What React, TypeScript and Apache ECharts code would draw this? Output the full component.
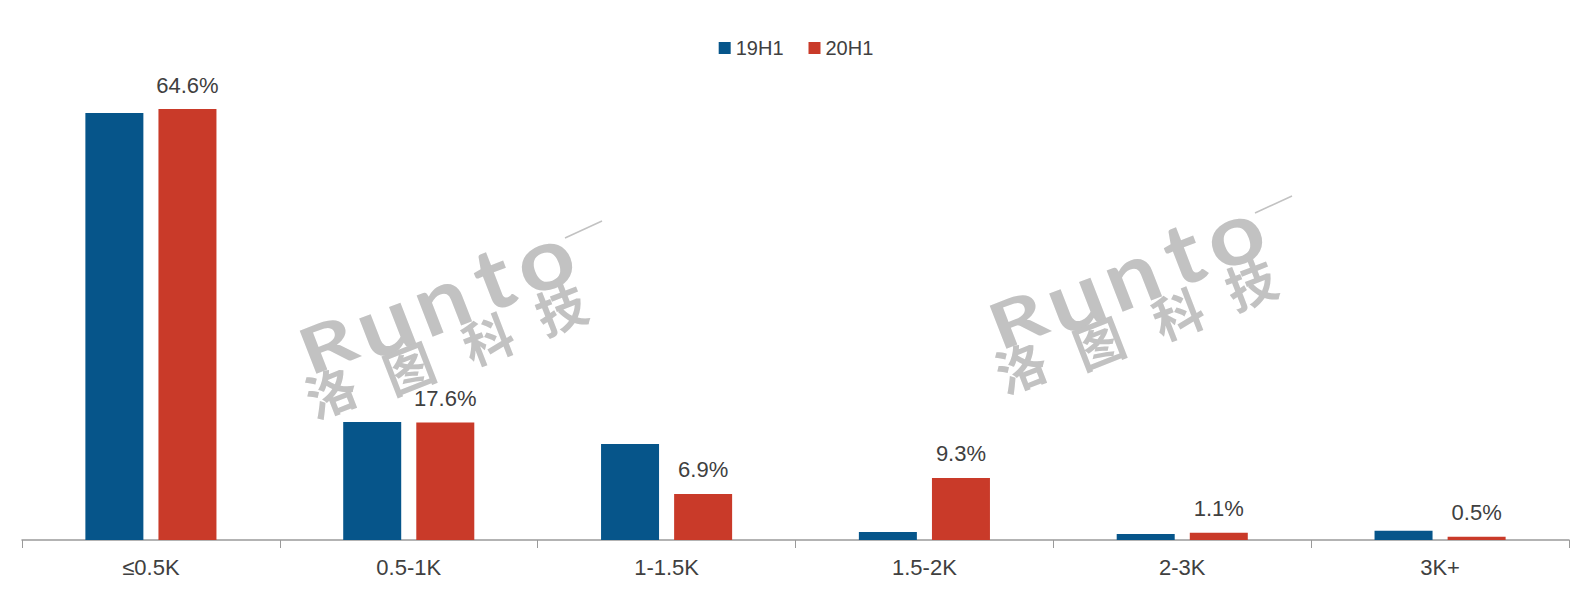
import React, { useEffect, useRef } from "react";
import * as echarts from "echarts";

const categories = ["≤0.5K", "0.5-1K", "1-1.5K", "1.5-2K", "2-3K", "3K+"];
const seriesNames = ["19H1", "20H1"];
const values19H1 = [64.0, 17.7, 14.4, 1.2, 0.9, 1.4];
const values20H1 = [64.6, 17.6, 6.9, 9.3, 1.1, 0.5];
const watermarkLatin = ["R", "u", "n", "t", "o"];
const watermarkCJK = ["洛", "图", "科", "技"];

const BLUE = "#06558a";
const RED = "#c93a29";
const TEXT = "#404040";
const FONT = "'Liberation Sans', Arial, sans-serif";
const WM = "#c2c2c2";

function buildWatermark(dx: number, dy: number) {
  const rot = 0.37;
  const latinPos = [
    [327, 343],
    [384, 321],
    [440, 298],
    [492, 276],
    [543, 257],
  ];
  const latinSize = [64, 86, 86, 86, 86];
  const latinScaleX = [1.35, 1.15, 1.1, 1.1, 1.15];
  const cjkPos = [
    [330, 390],
    [408, 366],
    [487, 337],
    [560, 307],
  ];
  const els: any[] = [];
  watermarkLatin.forEach((ch, i) => {
    els.push({
      type: "text",
      x: latinPos[i][0] + dx,
      y: latinPos[i][1] + dy,
      rotation: rot,
      scaleX: latinScaleX[i],
      z: -1,
      silent: true,
      style: {
        text: ch,
        fill: WM,
        fontSize: latinSize[i],
        fontFamily: "Lato, 'DejaVu Sans', sans-serif",
        fontWeight: "bold",
        align: "center",
        verticalAlign: "middle",
      },
    });
  });
  watermarkCJK.forEach((ch, i) => {
    els.push({
      type: "text",
      x: cjkPos[i][0] + dx,
      y: cjkPos[i][1] + dy,
      rotation: rot,
      z: -1,
      silent: true,
      style: {
        text: ch,
        fill: WM,
        fontSize: 50,
        fontFamily: "'Noto Sans CJK SC', sans-serif",
        fontWeight: "bold",
        align: "center",
        verticalAlign: "middle",
      },
    });
  });
  els.push({
    type: "line",
    z: -1,
    silent: true,
    shape: { x1: 565 + dx, y1: 238 + dy, x2: 602 + dx, y2: 221 + dy },
    style: { stroke: WM, lineWidth: 1.5 },
  });
  return els;
}

export default function App() {
  const ref = useRef<HTMLDivElement>(null);
  useEffect(() => {
    if (!ref.current) return;
    const chart = echarts.init(ref.current, null, { renderer: "svg" });
    chart.setOption({
      animation: false,
      backgroundColor: "#ffffff",
      textStyle: { fontFamily: FONT, color: TEXT },
      legend: {
        data: seriesNames,
        top: 33,
        left: "center",
        itemWidth: 12,
        itemHeight: 12,
        itemGap: 25,
        icon: "rect",
        textStyle: { fontSize: 20, color: TEXT, fontFamily: FONT },
      },
      grid: { left: 22, right: 23, top: 73, bottom: 61, containLabel: false },
      xAxis: {
        type: "category",
        data: categories,
        axisLine: { lineStyle: { color: "#9a9a9a", width: 1.5 } },
        axisTick: { show: true, length: 8, lineStyle: { color: "#9a9a9a" } },
        axisLabel: { fontSize: 22, color: TEXT, margin: 16, fontFamily: FONT },
      },
      yAxis: {
        type: "value",
        min: 0,
        max: 70,
        show: false,
        splitLine: { show: false },
      },
      graphic: [...buildWatermark(0, 0), ...buildWatermark(690, -25)],
      series: [
        {
          name: seriesNames[0],
          type: "bar",
          data: values19H1,
          barWidth: 58,
          barGap: "26%",
          itemStyle: { color: BLUE },
          z: 2,
        },
        {
          name: seriesNames[1],
          type: "bar",
          data: values20H1,
          barWidth: 58,
          barGap: "26%",
          itemStyle: { color: RED },
          z: 2,
          label: {
            show: true,
            position: "top",
            distance: 13,
            fontSize: 22,
            color: TEXT,
            fontFamily: FONT,
            formatter: (p: any) => `${p.value.toFixed(1)}%`,
          },
        },
      ],
    });
    return () => chart.dispose();
  }, []);
  return (
    <div
      ref={ref}
      style={{ position: "fixed", left: 0, top: 0, width: 1592, height: 601 }}
    />
  );
}
